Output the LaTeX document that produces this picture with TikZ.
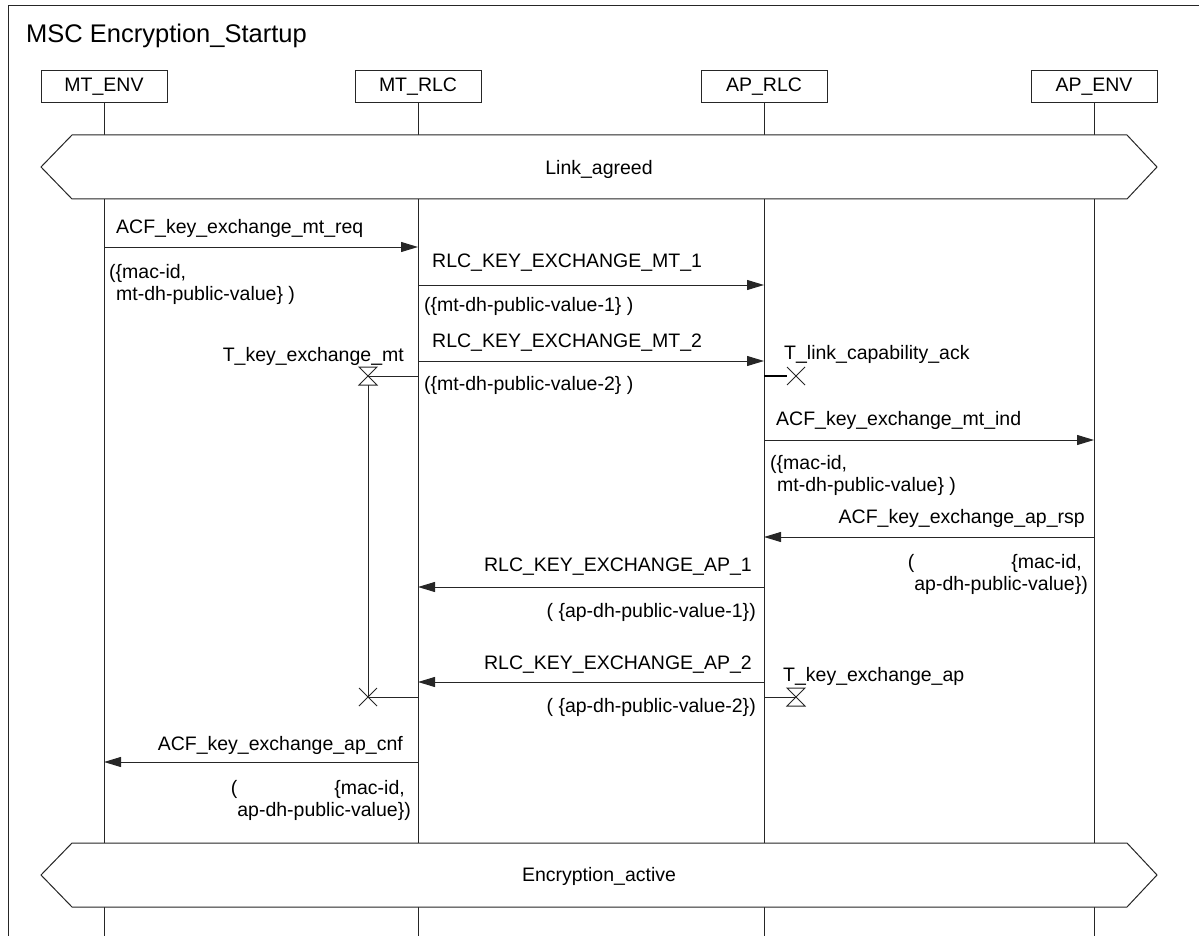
\documentclass[tikz,border=0pt]{standalone}
\usepackage{fontspec}
\setmainfont{Liberation Sans}
\usetikzlibrary{arrows.meta}
\newcommand\msgfont{\fontsize{19.5}{22}\selectfont}
\newcommand\titlefont{\fontsize{25.5}{29}\selectfont}
\tikzset{
  ln/.style={draw=black!85, line width=1pt},
  inst/.style={ln, fill=white, minimum width=126pt, minimum height=32pt, inner sep=0pt},
  msg/.style={ln, -{Triangle[length=17pt,width=10pt]}},
  txt/.style={inner sep=0pt},
  cond/.style={ln, fill=white},
  thickln/.style={draw=black, line width=2pt},
}
\begin{document}
\begin{tikzpicture}[x=1pt, y=-1pt, font=\msgfont]
\useasboundingbox (0,0) rectangle (1199,936);
% frame
\draw[ln] (8,936) -- (8,6) -- (1199,6);
\node[txt, anchor=west, font=\titlefont] (title) at (26,36) {MSC Encryption\_Startup};
% instances
\node[inst] (mtenv) at (104,87) {MT\_ENV};
\node[inst] (mtrlc) at (418,87) {MT\_RLC};
\node[inst] (aprlc) at (764,87) {AP\_RLC};
\node[inst] (apenv) at (1094,87) {AP\_ENV};
\foreach \n in {mtenv,mtrlc,aprlc,apenv}{
  \draw[ln] (\n.south) -- (\n.south |- 0,936);
}
% condition Link_agreed
\draw[cond] (41,167) -- (72,135) -- (1127,135) -- (1157,167) -- (1127,199) -- (72,199) -- cycle;
\node[txt] (linkagreed) at (599,169) {Link\_agreed};
% ACF_key_exchange_mt_req
\node[txt, anchor=west] (l1) at (116,228) {ACF\_key\_exchange\_mt\_req};
\draw[msg] (mtenv.south |- 0,247) -- (mtrlc.south |- 0,247);
\node[txt, anchor=west, align=left] (p1) at (109,284) {(\{mac-id,\\\hspace*{7pt}mt-dh-public-value\} )};
% RLC_KEY_EXCHANGE_MT_1
\node[txt, anchor=west] (l2) at (432,263) {RLC\_KEY\_EXCHANGE\_MT\_1};
\draw[msg] (mtrlc.south |- 0,285) -- (aprlc.south |- 0,285);
\node[txt, anchor=west] (p2) at (424,306) {(\{mt-dh-public-value-1\} )};
% RLC_KEY_EXCHANGE_MT_2
\node[txt, anchor=west] (l3) at (432,343) {RLC\_KEY\_EXCHANGE\_MT\_2};
\draw[msg] (mtrlc.south |- 0,361) -- (aprlc.south |- 0,361);
\node[txt, anchor=west] (p3) at (424,385) {(\{mt-dh-public-value-2\} )};
% timer T_key_exchange_mt
\coordinate (tmset) at (368,376);
\coordinate (tmout) at (368,697);
\node[txt, anchor=east] (tml) at (404,356) {T\_key\_exchange\_mt};
\draw[ln] (mtrlc.south |- tmset) -- (tmset);
\draw[ln] (tmset) ++(-9,-9) -- ++(18,0) -- ++(-18,18) -- ++(18,0) -- cycle;
\draw[ln] ([yshift=-9pt]tmset) -- (tmout);
\draw[ln] (mtrlc.south |- tmout) -- (tmout);
\draw[ln] (tmout) ++(-9,-9) -- ++(18,18) ++(0,-18) -- ++(-18,18);
% timer T_link_capability_ack (stop)
\coordinate (tlc) at (796,376);
\node[txt, anchor=west] (tlcl) at (784,354) {T\_link\_capability\_ack};
\draw[thickln] (aprlc.south |- tlc) -- ([xshift=-9pt]tlc);
\draw[ln] (tlc) ++(-9,-9) -- ++(18,18) ++(0,-18) -- ++(-18,18);
% ACF_key_exchange_mt_ind
\node[txt, anchor=west] (l4) at (776,420) {ACF\_key\_exchange\_mt\_ind};
\draw[msg] (aprlc.south |- 0,440) -- (apenv.south |- 0,440);
\node[txt, anchor=west, align=left] (p4) at (770,475) {(\{mac-id,\\\hspace*{7pt}mt-dh-public-value\} )};
% ACF_key_exchange_ap_rsp
\node[txt, anchor=east] (l5) at (1085,518) {ACF\_key\_exchange\_ap\_rsp};
\draw[msg] (apenv.south |- 0,537) -- (aprlc.south |- 0,537);
\node[txt, anchor=east, align=right] (p5) at (1088,574) {(\hspace{97pt}\{mac-id,\hspace*{6pt}\\ap-dh-public-value\})};
% RLC_KEY_EXCHANGE_AP_1
\node[txt, anchor=east] (l6) at (752,567) {RLC\_KEY\_EXCHANGE\_AP\_1};
\draw[msg] (aprlc.south |- 0,587) -- (mtrlc.south |- 0,587);
\node[txt, anchor=east] (p6) at (756,612) {( \{ap-dh-public-value-1\})};
% RLC_KEY_EXCHANGE_AP_2
\node[txt, anchor=east] (l7) at (752,665) {RLC\_KEY\_EXCHANGE\_AP\_2};
\draw[msg] (aprlc.south |- 0,682) -- (mtrlc.south |- 0,682);
\node[txt, anchor=east] (p7) at (756,707) {( \{ap-dh-public-value-2\})};
% timer T_key_exchange_ap
\coordinate (tap) at (796,697);
\node[txt, anchor=west] (tapl) at (783,676) {T\_key\_exchange\_ap};
\draw[ln] (aprlc.south |- tap) -- (tap);
\draw[ln] (tap) ++(-9,-9) -- ++(18,0) -- ++(-18,18) -- ++(18,0) -- cycle;
% ACF_key_exchange_ap_cnf
\node[txt, anchor=east] (l8) at (403,745) {ACF\_key\_exchange\_ap\_cnf};
\draw[msg] (mtrlc.south |- 0,762) -- (mtenv.south |- 0,762);
\node[txt, anchor=east, align=right] (p8) at (411,800) {(\hspace{97pt}\{mac-id,\hspace*{6pt}\\ap-dh-public-value\})};
% condition Encryption_active
\draw[cond] (41,875) -- (72,843) -- (1127,843) -- (1157,875) -- (1127,907) -- (72,907) -- cycle;
\node[txt] (encact) at (599,876) {Encryption\_active};
\end{tikzpicture}
\end{document}
